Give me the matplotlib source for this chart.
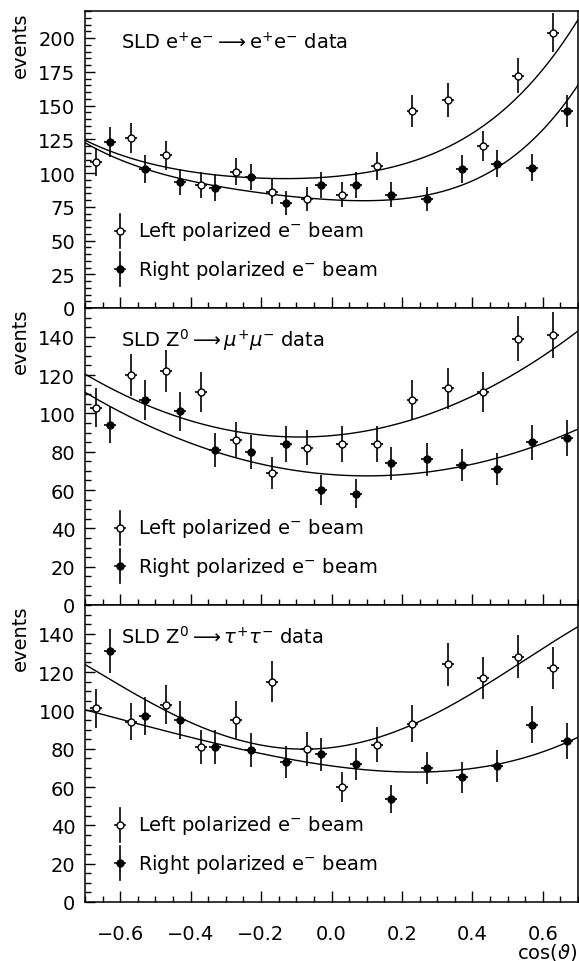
import numpy as np
import matplotlib
matplotlib.use('Agg')
import matplotlib.pyplot as plt
from matplotlib.ticker import MultipleLocator

plt.rcParams['font.family'] = ['DejaVu Sans']
plt.rcParams['mathtext.fontset'] = 'dejavusans'

# cos(theta) bin centres; left-beam points sit a bit left, right-beam a bit right
bins = np.array([-0.65, -0.55, -0.45, -0.35, -0.25, -0.15, -0.05,
                 0.05, 0.15, 0.25, 0.35, 0.45, 0.55, 0.65])
shift = 0.02

# e+e- -> e+e-
ee_left = [108, 126, 113, 91, 101, 86, 81, 84, 105, 146, 154, 120, 172, 204]
ee_left_err = [10.4, 11.2, 10.6, 9.5, 10.0, 9.3, 9.0, 9.2, 10.2, 12.1, 12.4, 11.0, 13.1, 14.3]
ee_right = [123, 103, 93, 89, 97, 78, 91, 91, 84, 81, 103, 107, 104, 146]
ee_right_err = [11.1, 10.1, 9.6, 9.4, 9.8, 8.8, 9.5, 9.5, 9.2, 9.0, 10.1, 10.3, 10.2, 12.1]

# Z0 -> mu+ mu-
mm_left = [103, 120, 122, 111, 86, 69, 82, 84, 84, 107, 113, 111, 139, 141]
mm_left_err = [10.1, 11.0, 11.0, 10.5, 9.3, 8.3, 9.1, 9.2, 9.2, 10.3, 10.6, 10.5, 11.8, 11.9]
mm_right = [94, 107, 101, 81, 80, 84, 60, 58, 74, 76, 73, 71, 85, 87]
mm_right_err = [9.7, 10.3, 10.0, 9.0, 8.9, 9.2, 7.7, 7.6, 8.6, 8.7, 8.5, 8.4, 9.2, 9.3]

# Z0 -> tau+ tau-
tt_left = [101, 94, 103, 81, 95, 115, 80, 60, 82, 93, 124, 117, 128, 122]
tt_left_err = [10.0, 9.7, 10.1, 9.0, 9.7, 10.7, 8.9, 7.7, 9.1, 9.6, 11.1, 10.8, 11.3, 11.0]
tt_right = [131, 97, 95, 81, 79.5, 73, 77, 72, 54, 70, 65, 71, 92.5, 84]
tt_right_err = [11.4, 9.8, 9.7, 9.0, 8.9, 8.5, 8.8, 8.5, 7.3, 8.4, 8.1, 8.4, 9.6, 9.2]

# fit curves at a few cos(theta) values
ee_curve_x = [-0.7, -0.5, -0.3, -0.1, 0.1, 0.3, 0.5, 0.6, 0.7]
ee_curve_left = [124, 107, 97, 95.5, 101, 116, 149, 176, 214]
ee_curve_right = [122, 102, 88.5, 81, 80, 87, 108, 131, 166]

mm_curve_x = [-0.7, -0.5, -0.3, -0.1, 0.1, 0.3, 0.5, 0.7]
mm_curve_left = [120.5, 102.5, 91.5, 87.7, 90.9, 101.2, 118.5, 143]
mm_curve_right = [111, 92, 78.3, 70.1, 67.4, 70.1, 78.2, 91.8]

tt_curve_left_x = [-0.7, -0.47, -0.24, -0.07, 0.13, 0.23, 0.43, 0.53, 0.7]
tt_curve_left = [123.3, 102.4, 80, 80, 87.1, 93.8, 111.2, 123.3, 144.2]
tt_curve_right_x = [-0.7, -0.57, -0.43, -0.33, -0.24, -0.13, 0.07, 0.17, 0.27, 0.47, 0.67, 0.7]
tt_curve_right = [100.4, 93.8, 87.7, 81.6, 79.9, 75.5, 68.9, 67.7, 68.2, 72, 83.3, 86]

panels = [
    dict(title=r'SLD e$^{+}$e$^{-}$$\longrightarrow$e$^{+}$e$^{-}$ data',
         left=ee_left, left_err=ee_left_err, right=ee_right, right_err=ee_right_err,
         cl=(ee_curve_x, ee_curve_left, 4), cr=(ee_curve_x, ee_curve_right, 4),
         ymax=220, major=25, minor=5),
    dict(title=r'SLD Z$^{0}$$\longrightarrow$$\mu^{+}\mu^{-}$ data',
         left=mm_left, left_err=mm_left_err, right=mm_right, right_err=mm_right_err,
         cl=(mm_curve_x, mm_curve_left, 2), cr=(mm_curve_x, mm_curve_right, 2),
         ymax=155, major=20, minor=5),
    dict(title=r'SLD Z$^{0}$$\longrightarrow$$\tau^{+}\tau^{-}$ data',
         left=tt_left, left_err=tt_left_err, right=tt_right, right_err=tt_right_err,
         cl=(tt_curve_left_x, tt_curve_left, 4), cr=(tt_curve_right_x, tt_curve_right, 4),
         ymax=155, major=20, minor=5),
]

fig = plt.figure(figsize=(5.79, 9.62), dpi=100)
ax_left, ax_w, ax_h = 85 / 579, 493 / 579, 297 / 962
bottoms = [1 - 309 / 962, 1 - 606 / 962, 1 - 903 / 962]

xx = np.linspace(-0.7, 0.7, 300)
ebkw = dict(ecolor='black', elinewidth=1.2, capsize=0, linestyle='none', zorder=3)

for i, p in enumerate(panels):
    ax = fig.add_axes([ax_left, bottoms[i], ax_w, ax_h])

    # fitted curves
    for cx, cy, deg in (p['cl'], p['cr']):
        coef = np.polyfit(cx, cy, deg)
        ax.plot(xx, np.polyval(coef, xx), color='black', lw=1.0, zorder=2)

    ax.errorbar(bins - shift, p['left'], yerr=p['left_err'], xerr=0.017, fmt='o',
                ms=5, mfc='white', mec='black', mew=1.0, **ebkw)
    ax.errorbar(bins + shift, p['right'], yerr=p['right_err'], xerr=0.017, fmt='o',
                ms=5, mfc='black', mec='black', **ebkw)

    ax.text(0.073, 0.897, p['title'], transform=ax.transAxes, fontsize=14, va='center')

    # hand-drawn legend
    for yy, face, label in ((0.26, 'white', r'Left polarized e$^{-}$ beam'),
                            (0.13, 'black', r'Right polarized e$^{-}$ beam')):
        ax.plot([0.071, 0.071], [yy - 0.057, yy + 0.057], transform=ax.transAxes,
                color='black', lw=1.2)
        ax.plot([0.061, 0.081], [yy, yy], transform=ax.transAxes, color='black', lw=1.2)
        ax.plot([0.071], [yy], 'o', ms=5, mfc=face, mec='black', mew=1.0,
                transform=ax.transAxes)
        ax.text(0.108, yy, label, transform=ax.transAxes, fontsize=14, va='center')

    ax.set_xlim(-0.7, 0.7)
    ax.set_ylim(0, p['ymax'])
    ax.xaxis.set_major_locator(MultipleLocator(0.2))
    ax.xaxis.set_minor_locator(MultipleLocator(0.05))
    ax.yaxis.set_major_locator(MultipleLocator(p['major']))
    ax.yaxis.set_minor_locator(MultipleLocator(p['minor']))
    ax.tick_params(which='both', direction='in', top=False, right=False, labelsize=14, width=1.0)
    ax.tick_params(axis='x', which='major', length=8, pad=16)
    ax.tick_params(axis='x', which='minor', length=4)
    ax.tick_params(axis='y', which='major', length=7, pad=7)
    ax.tick_params(axis='y', which='minor', length=4)
    for s in ax.spines.values():
        s.set_linewidth(1.1)
    ax.set_ylabel('events', loc='top', fontsize=14, labelpad=6)
    if i < 2:
        ax.tick_params(axis='x', labelbottom=False)

fig.text(577 / 579, 1 - 953 / 962, r'cos($\vartheta$)', fontsize=14, ha='right', va='center')

fig.savefig('out.png', dpi=100)
